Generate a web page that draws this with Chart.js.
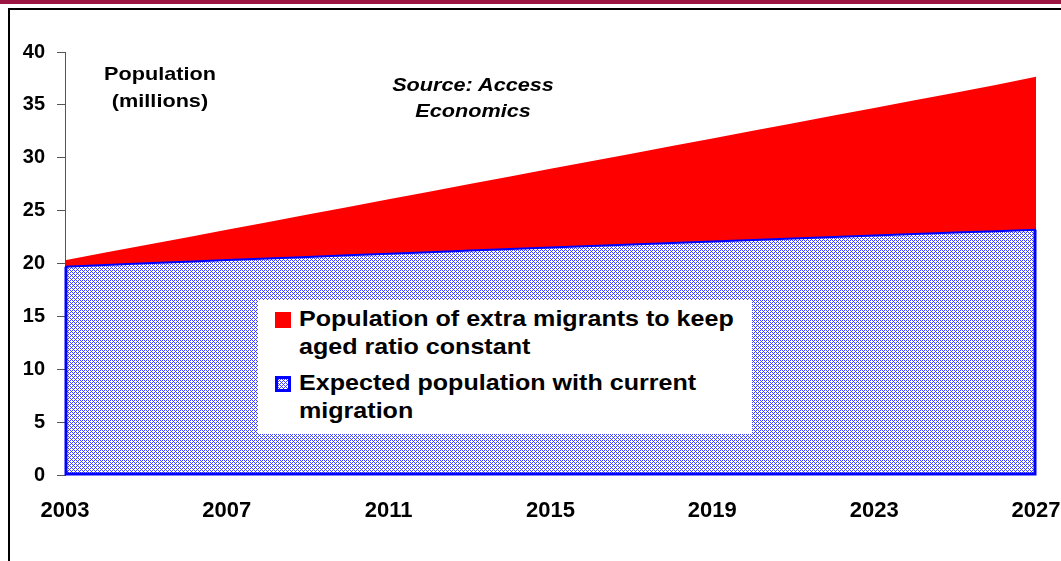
<!DOCTYPE html>
<html>
<head>
<meta charset="utf-8">
<script src="https://cdn.jsdelivr.net/npm/chart.js@4"></script>
<style>
  html, body { margin: 0; padding: 0; background: #fff; }
  body { width: 1061px; height: 561px; position: relative; overflow: hidden;
         font-family: "Liberation Sans", Arial, sans-serif; }
  #topbar { position: absolute; left: 0; top: 0; width: 1061px; height: 4px; background: #9b1442; }
  #frame { position: absolute; left: 8px; top: 8px; width: 1060px; height: 560px;
           border-left: 2px solid #000; border-top: 2px solid #000; }
  #chart { position: absolute; left: 0; top: 0; }
  .note { position: absolute; font-weight: bold; font-size: 19px; color: #000;
          text-align: center; line-height: 27px; white-space: nowrap;
          transform: scaleX(1.14); transform-origin: center top; }
  #legend { position: absolute; left: 258px; top: 300px; width: 494px; height: 134px; background: #fff; }
  .item { position: absolute; left: 17px; }
  .swatch { position: absolute; left: 0; width: 16px; height: 16px; }
  .label { position: absolute; left: 24px; top: 0; font-weight: bold; font-size: 22px;
           line-height: 28px; white-space: nowrap; transform: scaleX(1.14); transform-origin: left top; }
</style>
</head>
<body>
<div id="topbar"></div>
<div id="frame"></div>
<canvas id="chart" width="1100" height="561"></canvas>
<div class="note" style="left:90px; top:60px; width:140px;">Population<br>(millions)</div>
<div class="note" style="left:378px; top:72px; width:190px; font-style:italic; line-height:26px;">Source: Access<br>Economics</div>
<div id="legend">
  <div class="item" style="top:5px;">
    <div class="swatch" style="top:7px; background:#ff0000;"></div>
    <div class="label">Population of extra migrants to keep<br>aged ratio constant</div>
  </div>
  <div class="item" style="top:69px;">
    <div class="swatch" id="blueSwatch" style="top:7px; box-sizing:border-box; border:3px solid #0000ff;"></div>
    <div class="label">Expected population with current<br>migration</div>
  </div>
</div>
<script>
// years along the x axis, one point per year
const years = [2003, 2004, 2005, 2006, 2007, 2008, 2009, 2010, 2011, 2012, 2013, 2014, 2015,
               2016, 2017, 2018, 2019, 2020, 2021, 2022, 2023, 2024, 2025, 2026, 2027];

// expected population with current migration (millions)
const expected = [19.70, 19.86, 20.02, 20.17, 20.32, 20.47, 20.62, 20.77, 20.92, 21.07, 21.22, 21.37, 21.52,
                  21.66, 21.80, 21.94, 22.08, 22.22, 22.36, 22.50, 22.64, 22.78, 22.92, 23.06, 23.20];

// extra migrants on top of the expected population (millions)
const extra = [0.60, 1.17, 1.73, 2.30, 2.87, 3.44, 4.01, 4.58, 5.15, 5.72, 6.29, 6.86, 7.43,
               8.01, 8.59, 9.17, 9.75, 10.33, 10.91, 11.49, 12.07, 12.65, 13.23, 13.81, 14.45];

const yTicks = [0, 5, 10, 15, 20, 25, 30, 35, 40];

// small blue-on-white hatch used for the expected population area
function makeHatch() {
  const c = document.createElement('canvas');
  c.width = 4; c.height = 4;
  const g = c.getContext('2d');
  g.fillStyle = '#ffffff';
  g.fillRect(0, 0, 4, 4);
  g.fillStyle = '#4040ff';
  [[0, 0], [1, 1], [2, 2], [3, 3], [2, 0], [0, 2]].forEach(([x, y]) => g.fillRect(x, y, 1, 1));
  return c;
}

const hatchCanvas = makeHatch();
const ctx = document.getElementById('chart').getContext('2d');
const hatch = ctx.createPattern(hatchCanvas, 'repeat');

document.getElementById('blueSwatch').style.background = 'url(' + hatchCanvas.toDataURL() + ')';

// outline the left, bottom and right edges of the blue area
const areaOutline = {
  id: 'areaOutline',
  afterDatasetsDraw(chart) {
    const pts = chart.getDatasetMeta(0).data;
    const base = chart.scales.y.getPixelForValue(0);
    const first = pts[0], last = pts[pts.length - 1];
    const c = chart.ctx;
    c.save();
    c.strokeStyle = '#0000ff';
    c.lineWidth = 3;
    c.beginPath();
    c.moveTo(first.x + 1, first.y);
    c.lineTo(first.x + 1, base - 1);
    c.lineTo(last.x - 1, base - 1);
    c.lineTo(last.x - 1, last.y);
    c.stroke();
    c.restore();
  }
};

new Chart(ctx, {
  type: 'line',
  data: {
    labels: years,
    datasets: [
      {
        label: 'Expected population with current migration',
        data: expected,
        backgroundColor: hatch,
        borderColor: '#0000ff',
        borderWidth: 2,
        fill: 'origin',
        pointRadius: 0,
        tension: 0
      },
      {
        label: 'Population of extra migrants to keep aged ratio constant',
        data: extra,
        backgroundColor: '#ff0000',
        borderColor: '#ff0000',
        borderWidth: 0,
        fill: '-1',
        pointRadius: 0,
        tension: 0
      }
    ]
  },
  options: {
    responsive: false,
    animation: false,
    layout: { padding: { top: 52, right: 64, left: 0, bottom: 0 } },
    plugins: { legend: { display: false }, tooltip: { enabled: false } },
    scales: {
      x: {
        offset: false,
        grid: { display: false },
        border: { display: false },
        ticks: {
          autoSkip: false,
          maxRotation: 0,
          padding: 15,
          color: '#000',
          font: { family: 'Liberation Sans', size: 22, weight: 'bold' },
          callback: (v, i) => (i % 4 === 0 ? years[i] : '')
        },
        afterFit: (s) => { s.height = 86; }
      },
      y: {
        stacked: true,
        min: 0,
        max: 40,
        afterBuildTicks: (s) => { s.ticks = yTicks.map(v => ({ value: v })); },
        grid: { drawOnChartArea: false, drawTicks: true, tickLength: 8, color: '#555' },
        border: { display: true, color: '#555', width: 1 },
        ticks: {
          padding: 12,
          color: '#000',
          font: { family: 'Liberation Sans', size: 20, weight: 'bold' }
        },
        afterFit: (s) => { s.width = 65; }
      }
    }
  },
  plugins: [areaOutline]
});
</script>
</body>
</html>
